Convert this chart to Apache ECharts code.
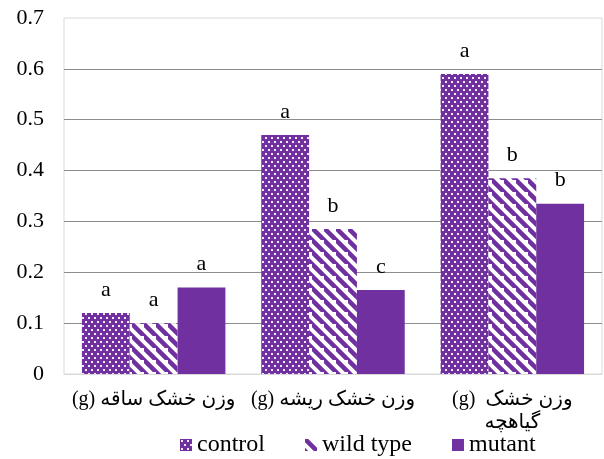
<!DOCTYPE html>
<html>
<head>
<meta charset="utf-8">
<script src="https://cdn.jsdelivr.net/npm/echarts@6/dist/echarts.min.js"></script>
<style>
  html, body { margin: 0; padding: 0; background: #fff; }
  #chart { width: 604px; height: 459px; }
</style>
</head>
<body>
<div id="chart"></div>
<script>
// Dry weight (g) by organ, for three plant lines
const categories = [
  '\u202Bوزن خشک ساقه (g)\u202C',
  '\u202Bوزن خشک ریشه (g)\u202C',
  '\u202Bوزن خشک  (g)\u202C\n\u202Bگیاهچه\u202C'
];
const seriesNames = ['control', 'wild type', 'mutant'];
const controlValues = [0.12, 0.47, 0.59];
const wildTypeValues = [0.10, 0.285, 0.385];
const mutantValues = [0.17, 0.165, 0.335];
const controlLetters = ['a', 'a', 'a'];
const wildTypeLetters = ['a', 'b', 'b'];
const mutantLetters = ['a', 'c', 'b'];
const yTicks = [0, 0.1, 0.2, 0.3, 0.4, 0.5, 0.6, 0.7];

const PURPLE = '#7030a0';
const FONT = 'Liberation Serif, Times New Roman, DejaVu Sans, serif';

// Dotted fill: purple with a staggered grid of small white dots
function dotPattern() {
  const c = document.createElement('canvas');
  c.width = 6; c.height = 8;
  const g = c.getContext('2d');
  g.fillStyle = PURPLE;
  g.fillRect(0, 0, 6, 8);
  g.fillStyle = 'rgba(255,255,255,0.9)';
  g.fillRect(1, 1, 2, 2);
  g.fillRect(4, 5, 2, 2);
  return { image: c, repeat: 'repeat' };
}

// Hatched fill: white with thick purple "\" stripes
function stripePattern() {
  const s = 12;
  const c = document.createElement('canvas');
  c.width = s; c.height = s;
  const g = c.getContext('2d');
  g.fillStyle = '#fff';
  g.fillRect(0, 0, s, s);
  g.strokeStyle = PURPLE;
  g.lineWidth = 4.5;
  g.beginPath();
  g.moveTo(-2, -2); g.lineTo(s + 2, s + 2);
  g.moveTo(-s - 2, -2); g.lineTo(2, s + 2);
  g.moveTo(s - 2, -s - 2); g.lineTo(2 * s + 2, s + 2);
  g.stroke();
  return { image: c, repeat: 'repeat' };
}

function letterSeries(name, values, letters, color) {
  return {
    name: name,
    type: 'bar',
    data: values.map((v, i) => ({ value: v, label: { formatter: letters[i] } })),
    itemStyle: { color: color },
    barGap: '0%',
    barCategoryGap: '20%',
    label: {
      show: true,
      position: 'top',
      distance: 12,
      color: '#000',
      fontFamily: FONT,
      fontSize: 22
    }
  };
}

const chart = echarts.init(document.getElementById('chart'), null, { renderer: 'canvas' });
chart.setOption({
  animation: false,
  backgroundColor: '#fff',
  grid: {
    left: 64, right: 2, top: 18, bottom: 85,
    show: true,
    borderColor: '#d9d9d9',
    borderWidth: 1,
    backgroundColor: 'transparent',
    containLabel: false
  },
  legend: {
    top: 428,
    left: 175,
    itemWidth: 12,
    itemHeight: 12,
    itemGap: 40,
    icon: 'rect',
    textStyle: { fontFamily: FONT, fontSize: 24, color: '#000' },
    data: seriesNames
  },
  xAxis: {
    type: 'category',
    data: categories,
    axisLine: { show: true, lineStyle: { color: '#d9d9d9', width: 1 } },
    axisTick: { show: false },
    axisLabel: {
      interval: 0,
      fontFamily: FONT,
      fontSize: 20,
      color: '#000',
      margin: 14,
      lineHeight: 23
    }
  },
  yAxis: {
    type: 'value',
    min: yTicks[0],
    max: yTicks[yTicks.length - 1],
    interval: 0.1,
    axisLine: { show: false },
    axisTick: { show: false },
    axisLabel: {
      fontFamily: FONT,
      fontSize: 22,
      color: '#000',
      margin: 20,
      formatter: v => String(Math.round(v * 10) / 10)
    },
    splitLine: {
      show: true,
      showMinLine: false,
      showMaxLine: false,
      lineStyle: { color: '#8c8c8c', width: 1 }
    }
  },
  series: [
    letterSeries(seriesNames[0], controlValues, controlLetters, dotPattern()),
    letterSeries(seriesNames[1], wildTypeValues, wildTypeLetters, stripePattern()),
    letterSeries(seriesNames[2], mutantValues, mutantLetters, PURPLE)
  ]
});
</script>
</body>
</html>
